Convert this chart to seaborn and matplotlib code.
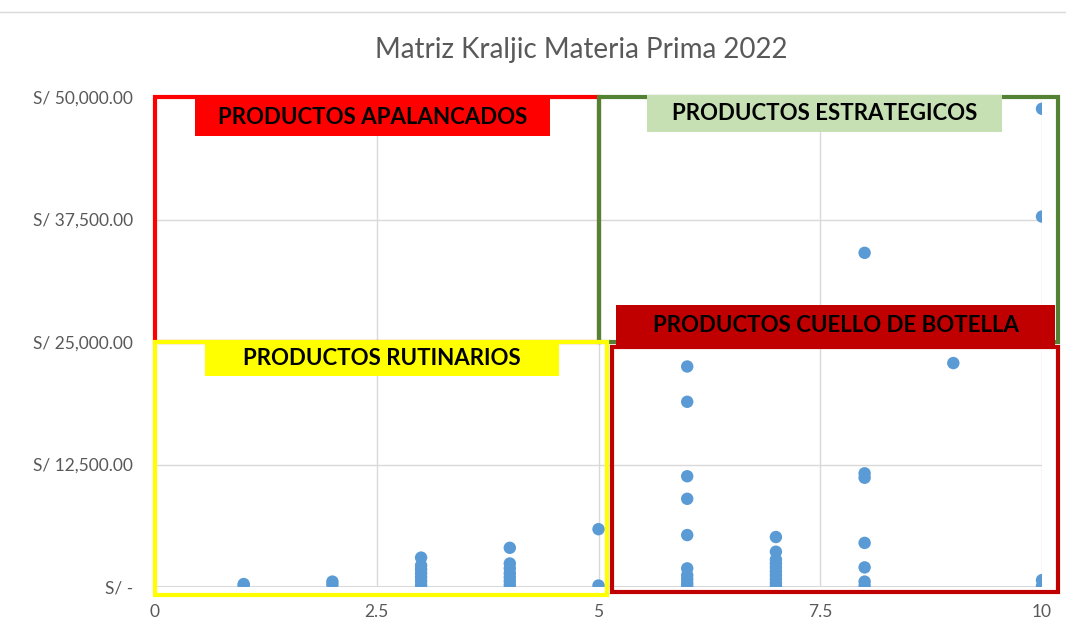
import numpy as np
import pandas as pd
import matplotlib.pyplot as plt
import seaborn as sns
from matplotlib.patches import Rectangle
from matplotlib.lines import Line2D
from matplotlib.ticker import FuncFormatter

# puntaje de riesgo (eje x) y monto de compra en soles (eje y)
riesgo = ([1, 1] + [2, 2] + [3] * 7 + [4] * 7 + [5, 5]
          + [6] * 10 + [7] * 10 + [8] * 7 + [9] + [10] * 4)
monto = ([150, 300]
         + [250, 550]
         + [200, 600, 1000, 1400, 1800, 2200, 3000]
         + [200, 600, 1000, 1400, 1900, 2400, 4000]
         + [150, 5900]
         + [22500, 18900, 11300, 9000, 5300, 1900, 1200, 800, 400, 100]
         + [5100, 3600, 2800, 2400, 2000, 1600, 1200, 800, 400, 100]
         + [34100, 11600, 11150, 4500, 2000, 550, 100]
         + [22850]
         + [48800, 37800, 700, 100])

x_ticks = [0, 2.5, 5, 7.5, 10]
y_ticks = [0, 12500, 25000, 37500, 50000]

df = pd.DataFrame({"riesgo": riesgo, "monto": monto})

sns.set_theme(style="white")
plt.rcParams["font.family"] = ["Lato", "DejaVu Sans"]

fig = plt.figure(figsize=(10.66, 6.37), dpi=100)
ax = fig.add_axes([0.1454, 0.0785, 0.8321, 0.7692])

sns.scatterplot(data=df, x="riesgo", y="monto", ax=ax, color="#5B9BD5",
                s=80, edgecolor="none", zorder=3)

ax.set_xlim(0, 10)
ax.set_ylim(0, 50000)
ax.set_xticks(x_ticks)
ax.set_yticks(y_ticks)
ax.xaxis.set_major_formatter(FuncFormatter(lambda v, p: f"{v:g}"))
ax.yaxis.set_major_formatter(FuncFormatter(
    lambda v, p: "S/ -" if v == 0 else f"S/ {v:,.2f}"))
ax.tick_params(axis="both", labelsize=12.5, labelcolor="#595959", length=0)
ax.tick_params(axis="y", pad=16)
ax.tick_params(axis="x", pad=12)
ax.set_xlabel("")
ax.set_ylabel("")
ax.grid(True, color="#D9D9D9", linewidth=1)
for s in ax.spines.values():
    s.set_visible(False)
ax.axhline(0, color="#D9D9D9", linewidth=1.5, zorder=1)

# cuadrantes de la matriz
cuadros = [
    (0, 25000, 5, 25000, "#FF0000"),
    (5, 25000, 5.18, 25000, "#548235"),
    (0, -800, 5.1, 25800, "#FFFF00"),
    (5.15, -500, 5.03, 25000, "#C00000"),
]
for x0, y0, w, h, c in cuadros:
    ax.add_patch(Rectangle((x0, y0), w, h, fill=False, edgecolor=c,
                           linewidth=3, clip_on=False, zorder=4))

etiquetas = [
    (0.45, 46000, 4.0, 3900, "#FF0000", "PRODUCTOS APALANCADOS"),
    (5.55, 46400, 4.0, 3800, "#C6E0B4", "PRODUCTOS ESTRATEGICOS"),
    (0.56, 21500, 4.0, 3700, "#FFFF00", "PRODUCTOS RUTINARIOS"),
    (5.2, 24500, 4.95, 4300, "#C00000", "PRODUCTOS CUELLO DE BOTELLA"),
]
for x0, y0, w, h, c, t in etiquetas:
    ax.add_patch(Rectangle((x0, y0), w, h, facecolor=c, edgecolor="none",
                           clip_on=False, zorder=5))
    ax.text(x0 + w / 2, y0 + h / 2, t, ha="center", va="center",
            fontsize=16, fontweight="bold", color="black", zorder=6)

fig.text(0.545, 0.921, "Matriz Kraljic Materia Prima 2022", ha="center",
         va="center", fontsize=20, color="#595959")
fig.add_artist(Line2D([0, 1], [0.981, 0.981], color="#D9D9D9", linewidth=1))

fig.savefig("out.png", dpi=100, facecolor="white")
